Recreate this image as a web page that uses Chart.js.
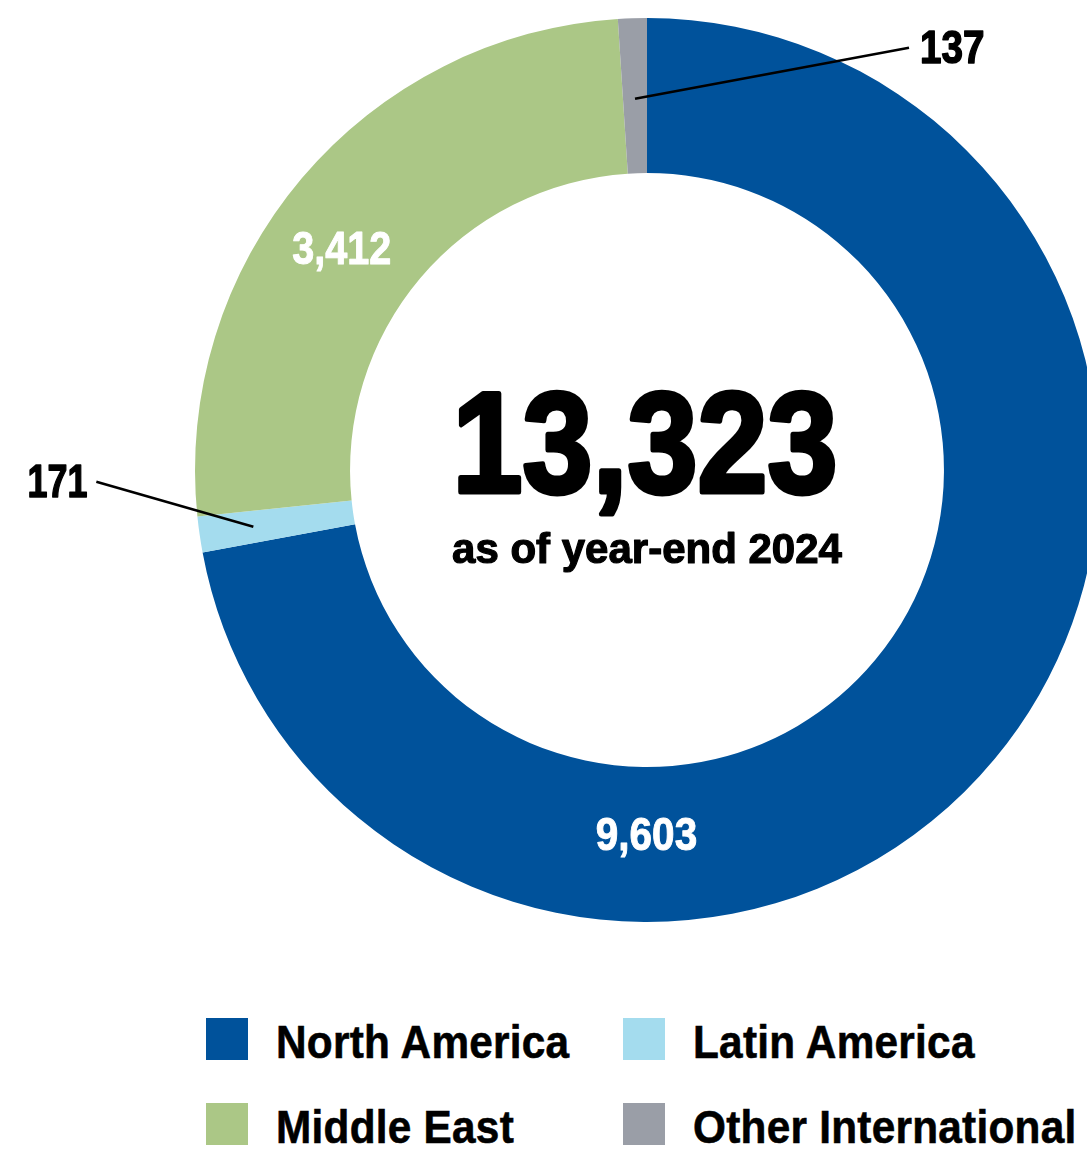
<!DOCTYPE html>
<html>
<head>
<meta charset="utf-8">
<title>Locations by region</title>
<script src="https://cdn.jsdelivr.net/npm/chart.js@4/dist/chart.umd.min.js"></script>
<style>
  html, body { margin: 0; padding: 0; background: #fff; overflow: hidden; width: 1087px; height: 1151px; }
  #wrap { position: absolute; left: 0; top: 0; width: 1294px; height: 940px; }
  #legend {
    position: absolute; left: 206px; top: 1018px;
    display: grid; grid-template-columns: 417px auto; row-gap: 43px;
    font: bold 47px 'Liberation Sans', Arial, sans-serif;
    color: #000;
  }
  .item { display: flex; align-items: center; height: 42px; }
  .box { width: 42px; height: 42px; margin-right: 28px; flex: none; }
  .item span {
    display: inline-block; position: relative; top: 3px; white-space: nowrap; line-height: 42px;
    transform: scaleX(0.9); transform-origin: left center;
    letter-spacing: 0.3px;
    -webkit-text-stroke: 0.6px #000;
  }
</style>
</head>
<body>
<div id="wrap"><canvas id="chart"></canvas></div>
<div id="legend"></div>
<script>
const regions = ['North America', 'Latin America', 'Middle East', 'Other International'];
const counts = [9603, 171, 3412, 137];
const colors = ['#00529B', '#A4DCEE', '#ABC786', '#9A9EA7'];
const subtitle = 'as of year-end 2024';

const total = counts.reduce((a, b) => a + b, 0);
const fmt = v => v.toLocaleString('en-US');

// where each value label sits: inside the ring (pos = fraction along arc, t = fraction across ring)
// or as a callout with a leader line
const labelSpots = [
  { type: 'inside', pos: 0.694, t: 0.43, sx: 0.88 },
  { type: 'callout', pos: 0.5, t: 0.65, dx: -157, dy: -45, align: 'right', sx: 0.78 },
  { type: 'inside', pos: 0.455, t: 0.52, sx: 0.86 },
  { type: 'callout', pos: 0.5, t: 0.48, dx: 274, dy: -51, align: 'left', sx: 0.84 }
];

// text squeezed horizontally, optionally thickened with a stroke
function drawText(ctx, text, x, y, align, sx, stroke, color) {
  ctx.save();
  ctx.translate(x, y);
  ctx.scale(sx, 1);
  ctx.textAlign = align;
  ctx.textBaseline = 'alphabetic';
  ctx.fillStyle = color;
  ctx.fillText(text, 0, 0);
  if (stroke) {
    ctx.strokeStyle = color;
    ctx.lineWidth = stroke;
    ctx.lineJoin = 'round';
    ctx.strokeText(text, 0, 0);
  }
  ctx.restore();
}

const labelPlugin = {
  id: 'labels',
  afterDraw(chart) {
    const ctx = chart.ctx;
    const arcs = chart.getDatasetMeta(0).data;
    const cx = arcs[0].x, cy = arcs[0].y;
    ctx.save();

    // center total
    ctx.font = "bold 143px 'Liberation Sans', Arial, sans-serif";
    drawText(ctx, fmt(total), cx - 2, cy + 22, 'center', 0.88, 5, '#000');
    ctx.font = "bold 42px 'Liberation Sans', Arial, sans-serif";
    drawText(ctx, subtitle, cx, cy + 93, 'center', 1, 1.2, '#000');

    ctx.font = "bold 46px 'Liberation Sans', Arial, sans-serif";
    arcs.forEach((arc, i) => {
      const s = labelSpots[i];
      const ang = arc.startAngle + (arc.endAngle - arc.startAngle) * s.pos;
      const r = arc.innerRadius + (arc.outerRadius - arc.innerRadius) * s.t;
      const px = cx + Math.cos(ang) * r;
      const py = cy + Math.sin(ang) * r;
      if (s.type === 'inside') {
        drawText(ctx, fmt(counts[i]), px, py + 16.5, 'center', s.sx, 1, '#fff');
      } else {
        const ex = px + s.dx, ey = py + s.dy;
        ctx.strokeStyle = '#000';
        ctx.lineWidth = 2.5;
        ctx.beginPath();
        ctx.moveTo(px, py);
        ctx.lineTo(ex, ey);
        ctx.stroke();
        const tx = s.align === 'left' ? ex + 11 : ex - 9;
        drawText(ctx, fmt(counts[i]), tx, ey + 15, s.align, s.sx, 1.5, '#000');
      }
    });
    ctx.restore();
  }
};

new Chart(document.getElementById('chart'), {
  type: 'doughnut',
  data: {
    labels: regions,
    datasets: [{
      data: counts,
      backgroundColor: colors,
      borderWidth: 0,
      hoverOffset: 0,
      offset: 0
    }]
  },
  options: {
    responsive: true,
    maintainAspectRatio: false,
    animation: false,
    radius: 452,
    cutout: '65.7%',
    layout: { padding: 0 },
    events: [],
    plugins: {
      legend: { display: false },
      tooltip: { enabled: false }
    }
  },
  plugins: [labelPlugin]
});

// Legend
const legend = document.getElementById('legend');
regions.forEach((name, i) => {
  const item = document.createElement('div');
  item.className = 'item';
  item.innerHTML = `<div class="box" style="background:${colors[i]}"></div><span>${name}</span>`;
  legend.appendChild(item);
});
</script>
</body>
</html>
